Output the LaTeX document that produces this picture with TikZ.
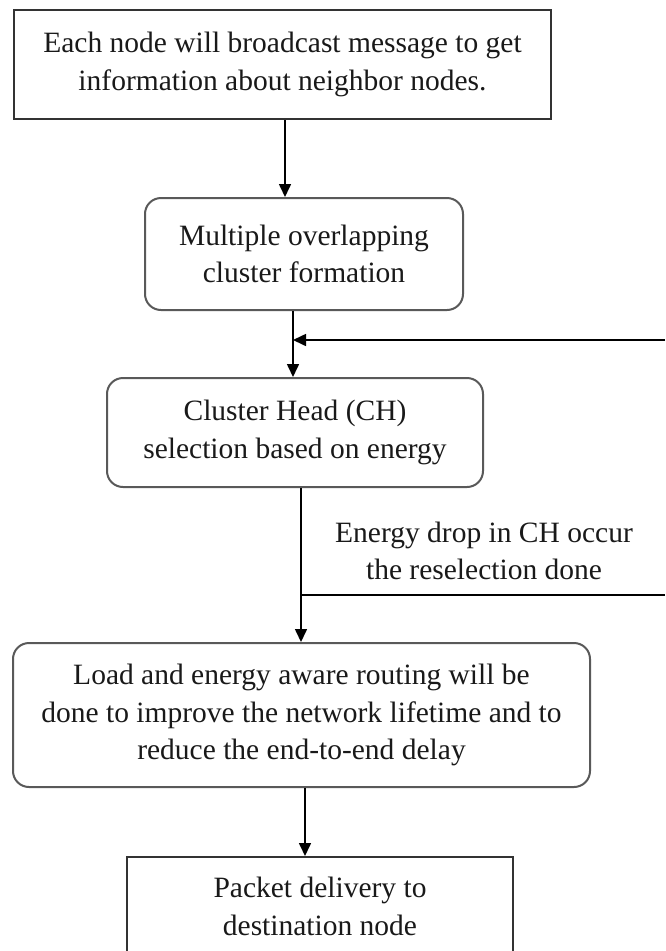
\documentclass[tikz,border=0pt]{standalone}
\usepackage{fontspec}
\setmainfont{Liberation Serif}
\usetikzlibrary{arrows.meta,calc}
\begin{document}
\begin{tikzpicture}[x=1pt,y=-1pt,
  every node/.style={font=\fontsize{29.5}{37.5}\selectfont, align=center, inner sep=0pt, text=black!90},
  sqbox/.style={draw=black!80, line width=2pt},
  rbox/.style={draw=black!65, line width=2pt, rounded corners=16pt},
  conn/.style={draw=black, line width=1.6pt},
  arr/.style={conn, -{Triangle[length=13pt,width=12pt]}}]
\useasboundingbox (0,0) rectangle (665,951);
\clip (0,0) rectangle (665,951);
\node[sqbox, minimum width=537pt, minimum height=109pt] (b1) at (282.5,64.5)
  {Each node will broadcast message to get\\information about neighbor nodes.};
\node[rbox, minimum width=318pt, minimum height=112pt] (b2) at (304,254)
  {Multiple overlapping\\cluster formation};
\node[rbox, minimum width=376pt, minimum height=109pt] (b3) at (295,432.5)
  {Cluster Head (CH)\\selection based on energy};
\node[rbox, minimum width=577pt, minimum height=144pt] (b4) at (301.5,715)
  {Load and energy aware routing will be\\done to improve the network lifetime and to\\reduce the end-to-end delay};
\node[sqbox, minimum width=386pt, minimum height=99pt] (b5) at (320,906.5)
  {Packet delivery to\\destination node};
\node (lbl) at (484,551) {Energy drop in CH occur\\the reselection done};
\coordinate (xa) at (285,0);
\coordinate (xb) at (293,0);
\coordinate (xc) at (301,0);
\coordinate (xd) at (305,0);
\coordinate (fbin) at (665,340);
\coordinate (fbout) at (665,595);
\draw[arr] (b1.south -| xa) -- (b2.north -| xa);
\draw[arr] (b2.south -| xb) -- (b3.north -| xb);
\draw[arr] (fbin) -- (fbin -| xb);
\draw[arr] (b3.south -| xc) -- (b4.north -| xc);
\draw[conn] (fbout -| xc) -- (fbout);
\draw[arr] (b4.south -| xd) -- (b5.north -| xd);
\end{tikzpicture}
\end{document}
